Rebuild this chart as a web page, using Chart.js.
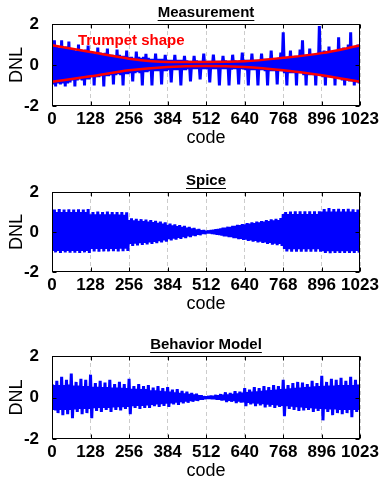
<!DOCTYPE html>
<html>
<head>
<meta charset="utf-8">
<script src="https://cdn.jsdelivr.net/npm/chart.js@4.4.1/dist/chart.umd.min.js"></script>
<style>
  html, body { margin: 0; padding: 0; background: #fff; overflow: hidden; }
  #wrap { position: relative; width: 383px; height: 482px; }
  canvas { position: absolute; left: 0; }
</style>
</head>
<body>
<div id="wrap">
  <canvas id="c1" width="383" height="150" style="top:0px"></canvas>
  <canvas id="c2" width="383" height="148" style="top:168px"></canvas>
  <canvas id="c3" width="383" height="151" style="top:332px"></canvas>
</div>
<script>
// one sample every 4 codes, 256 samples per panel
const codeStep = 4;
const xTicks = [0, 128, 256, 384, 512, 640, 768, 896, 1023];
const yTicks = [-2, 0, 2];

const dnlMeasurement = [
  0.85,-0.95,1.2,-1.05,0.9,-0.9,0.85,-0.95,1.2,-0.9,0.85,-1.05,0.9,-0.9,1.15,-0.85,
  0.8,-0.75,0.75,-1.05,0.7,-0.75,1.0,-0.7,0.75,-0.75,0.7,-1.0,0.75,-0.7,0.95,-0.7,
  0.65,-0.6,0.6,-1.0,0.55,-0.6,0.85,-0.6,0.6,-0.55,0.55,-1.05,0.6,-0.55,0.8,-0.55,
  0.5,-0.5,0.5,-0.95,0.45,-0.5,0.75,-0.45,0.5,-0.5,0.45,-1.0,0.45,-0.45,0.7,-0.45,
  0.4,-0.4,0.4,-0.8,0.35,-0.4,0.65,-0.35,0.4,-0.4,0.35,-1.0,0.4,-0.35,0.55,-0.35,
  0.35,-0.3,0.3,-1.0,0.3,-0.3,0.55,-0.3,0.3,-0.3,0.3,-0.95,0.3,-0.3,0.5,-0.3,
  0.25,-0.25,0.25,-0.85,0.25,-0.25,0.5,-0.25,0.25,-0.25,0.25,-1.0,0.25,-0.25,0.45,-0.25,
  0.22,-0.2,0.2,-0.8,0.2,-0.2,0.45,-0.2,0.22,-0.2,0.2,-0.7,0.2,-0.2,0.55,-0.2,
  0.2,-0.2,0.2,-0.85,0.2,-0.2,0.5,-0.2,0.2,-0.2,0.2,-1.0,0.2,-0.2,0.45,-0.2,
  0.22,-0.2,0.2,-1.0,0.2,-0.22,0.5,-0.2,0.22,-0.2,0.2,-0.95,0.22,-0.2,0.6,-0.22,
  0.25,-0.25,0.25,-1.0,0.25,-0.25,0.55,-0.25,0.25,-0.25,0.25,-1.0,0.25,-0.25,0.55,-0.25,
  0.3,-0.3,0.3,-1.0,0.3,-0.3,0.7,-0.3,0.3,-0.3,0.3,-0.95,0.35,-0.3,0.6,-0.3,
  1.6,-0.4,0.4,-1.0,0.4,-0.4,0.7,-0.4,0.4,-0.4,0.45,-1.0,0.4,-0.4,0.75,-0.4,
  1.2,-0.5,0.5,-1.0,0.5,-0.5,0.8,-0.5,0.5,-0.5,0.5,-1.0,0.55,-0.5,1.9,-0.5,
  0.65,-0.6,0.7,-1.0,0.65,-0.6,0.9,-0.6,0.65,-0.6,0.7,-1.0,0.7,-0.65,1.35,-0.65,
  0.8,-0.75,0.85,-1.0,0.8,-0.75,1.0,-0.8,1.6,-0.8,0.85,-1.0,0.9,-0.85,1.0,-0.9
];

const trumpetCodes = [0, 128, 256, 384, 512, 640, 768, 896, 1023];
const trumpetUpper = [0.97, 0.63, 0.31, 0.15, 0.15, 0.18, 0.35, 0.58, 0.95];
const trumpetLower = [-0.82, -0.55, -0.26, -0.1, -0.05, -0.1, -0.26, -0.5, -0.82];

const dnlSpice = [
  1.0,-0.95,1.12,-1.02,1.0,-0.95,1.15,-1.05,1.0,-0.95,1.12,-1.02,1.0,-0.95,1.13,-1.03,
  1.0,-0.95,1.12,-1.03,1.0,-0.95,1.14,-1.05,1.0,-0.95,1.12,-1.02,1.0,-0.95,1.15,-1.05,
  0.88,-0.85,1.0,-0.97,0.88,-0.85,1.02,-0.98,0.88,-0.85,1.0,-0.97,0.88,-0.85,1.02,-0.97,
  0.88,-0.85,1.0,-0.96,0.88,-0.85,1.0,-0.97,0.87,-0.84,1.0,-0.96,0.86,-0.84,0.98,-0.95,
  0.6,-0.6,0.68,-0.7,0.58,-0.58,0.66,-0.67,0.56,-0.56,0.64,-0.65,0.54,-0.54,0.62,-0.62,
  0.52,-0.52,0.6,-0.6,0.49,-0.49,0.56,-0.56,0.46,-0.46,0.52,-0.52,0.42,-0.42,0.48,-0.48,
  0.36,-0.36,0.42,-0.42,0.33,-0.33,0.38,-0.38,0.29,-0.29,0.34,-0.34,0.26,-0.26,0.3,-0.3,
  0.22,-0.22,0.25,-0.25,0.18,-0.18,0.2,-0.2,0.13,-0.13,0.15,-0.15,0.08,-0.08,0.09,-0.09,
  0.04,-0.04,0.06,-0.06,0.08,-0.08,0.1,-0.1,0.13,-0.13,0.15,-0.15,0.18,-0.18,0.21,-0.21,
  0.22,-0.22,0.26,-0.26,0.26,-0.26,0.3,-0.3,0.3,-0.3,0.35,-0.35,0.34,-0.34,0.4,-0.4,
  0.38,-0.38,0.44,-0.44,0.42,-0.42,0.48,-0.48,0.45,-0.45,0.52,-0.52,0.48,-0.48,0.55,-0.55,
  0.52,-0.52,0.6,-0.6,0.55,-0.55,0.63,-0.63,0.58,-0.58,0.66,-0.66,0.6,-0.6,0.7,-0.7,
  0.9,-0.85,1.0,-0.97,0.9,-0.86,1.02,-0.98,0.9,-0.86,1.03,-0.98,0.9,-0.86,1.03,-0.98,
  0.9,-0.86,1.04,-0.98,0.9,-0.86,1.04,-0.98,0.9,-0.86,1.04,-0.98,0.9,-0.86,1.03,-0.98,
  1.02,-0.96,1.15,-1.05,1.02,-0.96,1.2,-1.06,1.02,-0.96,1.15,-1.05,1.02,-0.96,1.16,-1.05,
  1.02,-0.96,1.15,-1.05,1.02,-0.96,1.16,-1.05,1.02,-0.96,1.14,-1.05,1.0,-0.95,1.12,-1.03
];

const dnlBehavior = [
  0.65,-0.6,0.6,-0.62,0.8,-0.75,0.6,-0.6,1.0,-0.85,0.6,-0.6,0.85,-0.8,0.62,-0.6,
  1.15,-1.0,0.58,-0.58,0.75,-0.7,0.58,-0.55,0.9,-0.8,0.55,-0.55,0.85,-0.75,0.55,-0.55,
  1.1,-1.0,0.52,-0.52,0.7,-0.65,0.52,-0.5,0.8,-0.7,0.5,-0.5,0.72,-0.6,0.5,-0.5,
  0.85,-0.7,0.48,-0.48,0.65,-0.6,0.48,-0.46,0.75,-0.62,0.46,-0.46,0.65,-0.55,0.45,-0.45,
  0.9,-0.8,0.42,-0.42,0.55,-0.5,0.42,-0.4,0.65,-0.55,0.4,-0.4,0.55,-0.5,0.4,-0.38,
  0.6,-0.5,0.35,-0.35,0.48,-0.42,0.34,-0.33,0.55,-0.45,0.32,-0.32,0.45,-0.4,0.3,-0.3,
  0.5,-0.45,0.28,-0.28,0.38,-0.33,0.25,-0.25,0.4,-0.35,0.22,-0.22,0.32,-0.28,0.2,-0.2,
  0.28,-0.25,0.17,-0.17,0.22,-0.2,0.14,-0.14,0.18,-0.16,0.1,-0.1,0.1,-0.1,0.05,-0.05,
  0.03,-0.03,0.05,-0.05,0.08,-0.07,0.07,-0.07,0.12,-0.1,0.1,-0.1,0.16,-0.14,0.13,-0.13,
  0.25,-0.22,0.15,-0.15,0.22,-0.2,0.17,-0.17,0.3,-0.27,0.2,-0.2,0.28,-0.25,0.23,-0.23,
  0.45,-0.42,0.26,-0.26,0.38,-0.33,0.28,-0.28,0.5,-0.42,0.3,-0.3,0.45,-0.38,0.32,-0.32,
  0.55,-0.48,0.34,-0.34,0.5,-0.44,0.36,-0.36,0.6,-0.5,0.38,-0.38,0.55,-0.45,0.4,-0.4,
  0.85,-0.9,0.42,-0.42,0.6,-0.55,0.44,-0.44,0.7,-0.6,0.46,-0.46,0.75,-0.65,0.48,-0.48,
  0.72,-0.62,0.5,-0.5,0.65,-0.6,0.52,-0.52,0.8,-0.7,0.54,-0.54,0.7,-0.65,0.55,-0.55,
  1.05,-1.1,0.56,-0.56,0.75,-0.7,0.58,-0.58,0.9,-0.85,0.58,-0.58,0.85,-0.75,0.6,-0.6,
  0.95,-0.8,0.6,-0.6,0.8,-0.75,0.6,-0.6,1.0,-0.95,0.6,-0.6,0.85,-0.7,0.62,-0.6
];

Chart.defaults.font.family = '"Liberation Sans", Arial, sans-serif';
Chart.defaults.color = '#000';

// frame, inner tick marks, underlined title and the red note
const boxPlugin = {
  id: 'box',
  afterDatasetsDraw(chart, args, opts) {
    const { ctx, chartArea: a, scales: { x, y } } = chart;
    ctx.save();
    if (opts.note) {
      ctx.fillStyle = '#ff0000';
      ctx.font = 'bold 15px "Liberation Sans", Arial, sans-serif';
      ctx.textBaseline = 'middle';
      ctx.textAlign = 'left';
      ctx.fillText(opts.note.text, x.getPixelForValue(opts.note.code), y.getPixelForValue(opts.note.dnl));
    }
    ctx.strokeStyle = '#000';
    ctx.lineWidth = 1;
    const l = Math.round(a.left) + 0.5, r = Math.round(a.right) - 0.5;
    const t = Math.round(a.top) + 0.5, b = Math.round(a.bottom) - 0.5;
    ctx.strokeRect(l, t, r - l, b - t);
    ctx.beginPath();
    xTicks.forEach(v => {
      const px = Math.round(x.getPixelForValue(v)) + 0.5;
      ctx.moveTo(px, t); ctx.lineTo(px, t + 4);
      ctx.moveTo(px, b); ctx.lineTo(px, b - 4);
    });
    yTicks.forEach(v => {
      const py = Math.round(y.getPixelForValue(v)) + 0.5;
      ctx.moveTo(l, py); ctx.lineTo(l + 4, py);
      ctx.moveTo(r, py); ctx.lineTo(r - 4, py);
    });
    ctx.stroke();

    const cx = (a.left + a.right) / 2, cy = a.top - 11;
    ctx.fillStyle = '#000';
    ctx.font = 'bold 15px "Liberation Sans", Arial, sans-serif';
    ctx.textAlign = 'center';
    ctx.textBaseline = 'middle';
    ctx.fillText(opts.title, cx, cy);
    const w = ctx.measureText(opts.title).width;
    ctx.beginPath();
    ctx.moveTo(cx - w / 2, cy + 7.5);
    ctx.lineTo(cx + w / 2, cy + 7.5);
    ctx.stroke();
    ctx.restore();
  }
};

function toPoints(values) {
  return values.map((v, i) => ({ x: i * codeStep, y: v }));
}

function makeChart(id, title, values, note) {
  const datasets = [{
    data: toPoints(values),
    borderColor: '#0000ff',
    borderWidth: 3,
    borderJoinStyle: 'bevel',
    pointRadius: 0,
    tension: 0,
    order: 1
  }];
  if (note) {
    [trumpetUpper, trumpetLower].forEach(arr => {
      datasets.push({
        data: trumpetCodes.map((c, i) => ({ x: c, y: arr[i] })),
        borderColor: '#ff0000',
        borderWidth: 2.5,
        pointRadius: 0,
        cubicInterpolationMode: 'monotone',
        order: 0
      });
    });
  }

  new Chart(document.getElementById(id), {
    type: 'line',
    data: { datasets },
    options: {
      responsive: false,
      animation: false,
      devicePixelRatio: 1,
      layout: { padding: { top: 24, right: 23, bottom: 1, left: 0 } },
      plugins: {
        legend: { display: false },
        tooltip: { enabled: false },
        box: { title, note }
      },
      scales: {
        x: {
          type: 'linear', min: 0, max: 1023,
          afterBuildTicks: s => { s.ticks = xTicks.map(v => ({ value: v })); },
          afterFit: s => { s.height = 43; },
          ticks: { font: { size: 17, weight: 'bold' }, padding: 3, maxRotation: 0, autoSkip: false, callback: v => String(v) },
          grid: { color: '#cccccc', lineWidth: 1, drawTicks: false },
          border: { display: false, dash: [4, 3] },
          title: { display: true, text: 'code', font: { size: 18 }, padding: { top: 0, bottom: 0 } }
        },
        y: {
          min: -2, max: 2,
          afterBuildTicks: s => { s.ticks = yTicks.map(v => ({ value: v })); },
          afterFit: s => { s.width = 52; },
          ticks: { font: { size: 17, weight: 'bold' }, padding: 5, callback: v => String(v) },
          grid: { display: false },
          border: { display: false },
          title: { display: true, text: 'DNL', font: { size: 18 }, padding: { top: 6, bottom: 0 } }
        }
      }
    },
    plugins: [boxPlugin]
  });
}

makeChart('c1', 'Measurement', dnlMeasurement, { text: 'Trumpet shape', code: 86, dnl: 1.17 });
makeChart('c2', 'Spice', dnlSpice, null);
makeChart('c3', 'Behavior Model', dnlBehavior, null);
</script>
</body>
</html>
